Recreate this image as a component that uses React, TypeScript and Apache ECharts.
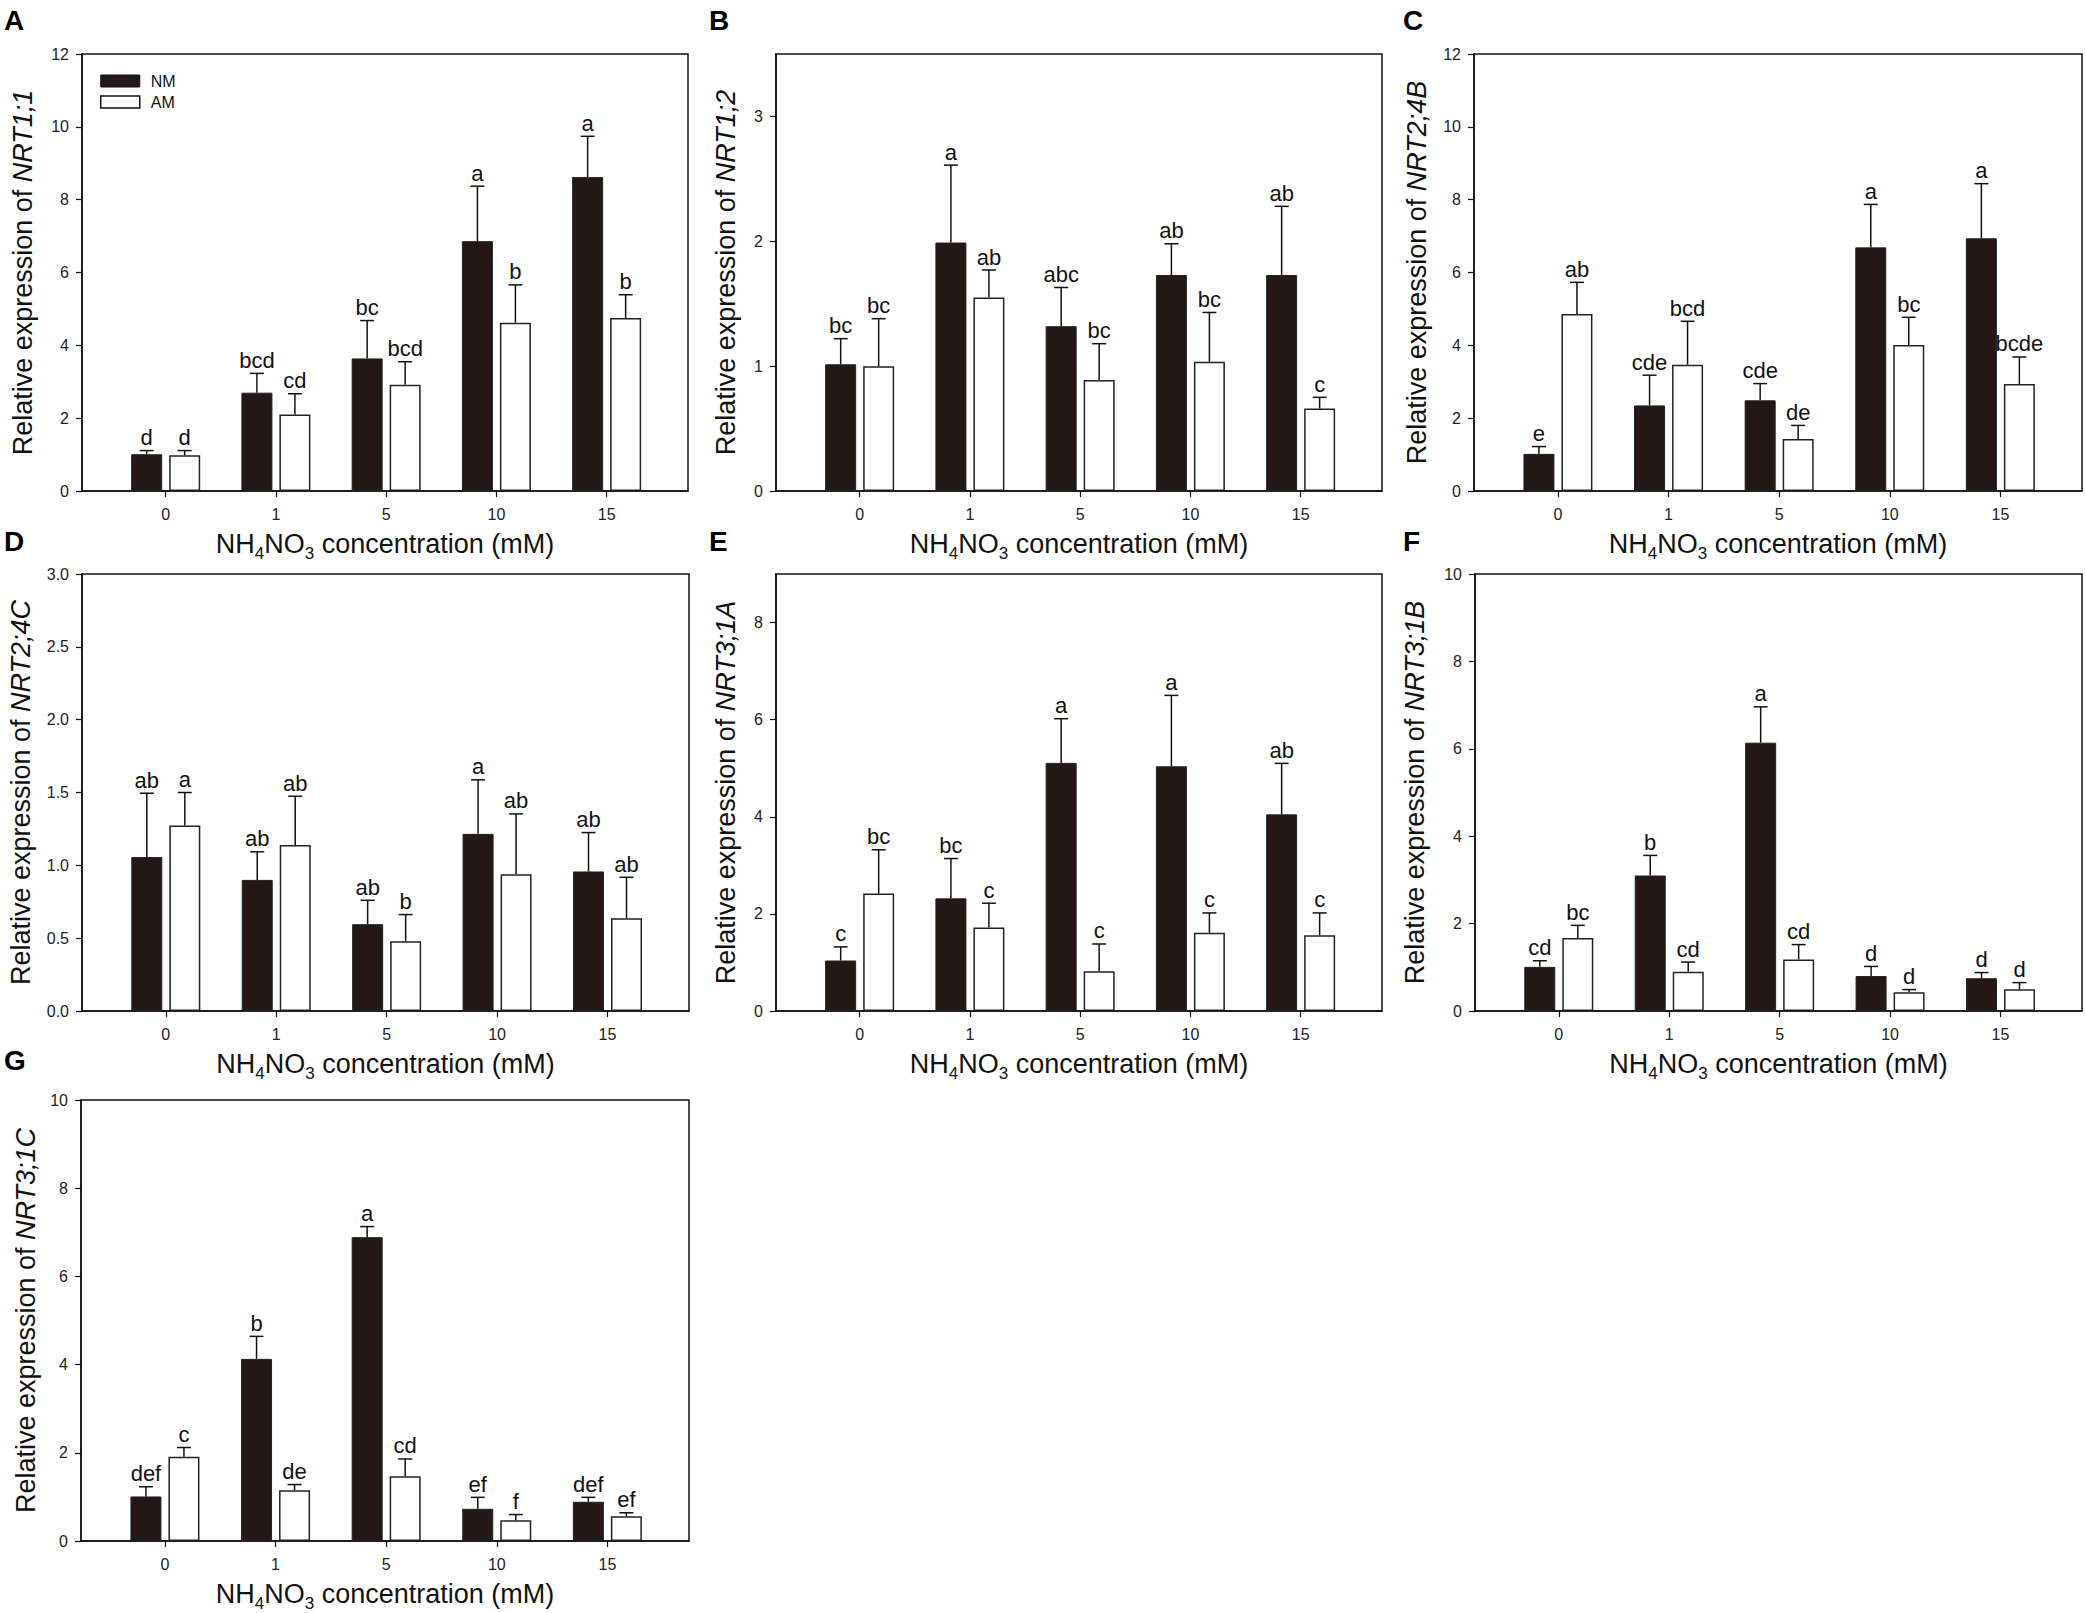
import React, { useEffect, useRef } from 'react';
import * as echarts from 'echarts';

const FONT = '"Liberation Sans", Arial, Helvetica, sans-serif';

// x categories (NH4NO3 mM)
const CATEGORIES = ['0', '1', '5', '10', '15'];
const SERIES_NAMES = ['NM', 'AM'];
const GENES = ['NRT1;1', 'NRT1;2', 'NRT2;4B', 'NRT2;4C', 'NRT3;1A', 'NRT3;1B', 'NRT3;1C'];
const PANEL_LETTERS = ['A', 'B', 'C', 'D', 'E', 'F', 'G'];

// y axis ranges and tick values
const Y_MAX = [12, 3.5, 12, 3.0, 9, 10, 10];
const Y_TICKS = [
  [0, 2, 4, 6, 8, 10, 12],
  [0, 1, 2, 3],
  [0, 2, 4, 6, 8, 10, 12],
  [0, 0.5, 1.0, 1.5, 2.0, 2.5, 3.0],
  [0, 2, 4, 6, 8],
  [0, 2, 4, 6, 8, 10],
  [0, 2, 4, 6, 8, 10],
];

// Panel A: NRT1;1
const A_NM = [1.01, 2.7, 3.64, 6.86, 8.62];
const A_NM_ERR = [1.11, 3.23, 4.68, 8.37, 9.74];
const A_NM_LET = ['d', 'bcd', 'bc', 'a', 'a'];
const A_AM = [0.98, 2.1, 2.92, 4.62, 4.75];
const A_AM_ERR = [1.11, 2.67, 3.55, 5.66, 5.39];
const A_AM_LET = ['d', 'cd', 'bcd', 'b', 'b'];

// Panel B: NRT1;2
const B_NM = [1.015, 1.99, 1.32, 1.73, 1.73];
const B_NM_ERR = [1.22, 2.61, 1.63, 1.98, 2.28];
const B_NM_LET = ['bc', 'a', 'abc', 'ab', 'ab'];
const B_AM = [1.0, 1.55, 0.89, 1.035, 0.66];
const B_AM_ERR = [1.38, 1.77, 1.18, 1.43, 0.75];
const B_AM_LET = ['bc', 'ab', 'bc', 'bc', 'c'];

// Panel C: NRT2;4B
const C_NM = [1.02, 2.35, 2.49, 6.69, 6.94];
const C_NM_ERR = [1.22, 3.18, 2.95, 7.87, 8.44];
const C_NM_LET = ['e', 'cde', 'cde', 'a', 'a'];
const C_AM = [4.86, 3.47, 1.43, 4.01, 2.94];
const C_AM_ERR = [5.73, 4.66, 1.8, 4.77, 3.68];
const C_AM_LET = ['ab', 'bcd', 'de', 'bc', 'bcde'];

// Panel D: NRT2;4C
const D_NM = [1.057, 0.9, 0.596, 1.216, 0.958];
const D_NM_ERR = [1.495, 1.093, 0.76, 1.587, 1.225];
const D_NM_LET = ['ab', 'ab', 'ab', 'a', 'ab'];
const D_AM = [1.273, 1.14, 0.478, 0.939, 0.636];
const D_AM_ERR = [1.5, 1.474, 0.662, 1.353, 0.918];
const D_AM_LET = ['a', 'ab', 'b', 'ab', 'ab'];

// Panel E: NRT3;1A
const E_NM = [1.04, 2.32, 5.11, 5.04, 4.05];
const E_NM_ERR = [1.32, 3.14, 6.02, 6.5, 5.1];
const E_NM_LET = ['c', 'bc', 'a', 'a', 'ab'];
const E_AM = [2.42, 1.72, 0.82, 1.61, 1.56];
const E_AM_ERR = [3.32, 2.22, 1.38, 2.02, 2.02];
const E_AM_LET = ['bc', 'c', 'c', 'c', 'c'];

// Panel F: NRT3;1B
const F_NM = [1.01, 3.1, 6.14, 0.8, 0.75];
const F_NM_ERR = [1.15, 3.56, 6.96, 1.02, 0.88];
const F_NM_LET = ['cd', 'b', 'a', 'd', 'd'];
const F_AM = [1.67, 0.9, 1.18, 0.43, 0.5];
const F_AM_ERR = [1.96, 1.12, 1.52, 0.49, 0.65];
const F_AM_LET = ['bc', 'cd', 'cd', 'd', 'd'];

// Panel G: NRT3;1C
const G_NM = [1.01, 4.13, 6.89, 0.73, 0.89];
const G_NM_ERR = [1.23, 4.64, 7.13, 0.99, 0.99];
const G_NM_LET = ['def', 'b', 'a', 'ef', 'def'];
const G_AM = [1.91, 1.15, 1.47, 0.47, 0.56];
const G_AM_ERR = [2.12, 1.28, 1.86, 0.6, 0.64];
const G_AM_LET = ['c', 'de', 'cd', 'f', 'ef'];

const PANEL_DATA = [
  { nm: A_NM, nmErr: A_NM_ERR, nmLet: A_NM_LET, am: A_AM, amErr: A_AM_ERR, amLet: A_AM_LET },
  { nm: B_NM, nmErr: B_NM_ERR, nmLet: B_NM_LET, am: B_AM, amErr: B_AM_ERR, amLet: B_AM_LET },
  { nm: C_NM, nmErr: C_NM_ERR, nmLet: C_NM_LET, am: C_AM, amErr: C_AM_ERR, amLet: C_AM_LET },
  { nm: D_NM, nmErr: D_NM_ERR, nmLet: D_NM_LET, am: D_AM, amErr: D_AM_ERR, amLet: D_AM_LET },
  { nm: E_NM, nmErr: E_NM_ERR, nmLet: E_NM_LET, am: E_AM, amErr: E_AM_ERR, amLet: E_AM_LET },
  { nm: F_NM, nmErr: F_NM_ERR, nmLet: F_NM_LET, am: F_AM, amErr: F_AM_ERR, amLet: F_AM_LET },
  { nm: G_NM, nmErr: G_NM_ERR, nmLet: G_NM_LET, am: G_AM, amErr: G_AM_ERR, amLet: G_AM_LET },
];

// layout (pixels)
const LAYOUT = [
  { left: 82, top: 54, width: 606, height: 437, nameGap: 46, lx: 4, ly: 6 },
  { left: 776, top: 54, width: 606, height: 437, nameGap: 37, lx: 709, ly: 6 },
  { left: 1474, top: 54, width: 608, height: 437, nameGap: 44, lx: 1403, ly: 6 },
  { left: 82, top: 574, width: 607, height: 437, nameGap: 48, lx: 4, ly: 527 },
  { left: 776, top: 574, width: 606, height: 437, nameGap: 37, lx: 709, ly: 527 },
  { left: 1475, top: 574, width: 607, height: 437, nameGap: 47, lx: 1403, ly: 527 },
  { left: 81, top: 1100, width: 608, height: 441, nameGap: 42, lx: 4, ly: 1046 },
];

const X_MIN = -0.759;
const X_MAX = 4.738;
const BAR_W = 31;
const BAR_GAP = 7;
const NM_COLOR = '#231815';
const INK = '#111111';

function buildOption() {
  const grid: any[] = [];
  const xAxis: any[] = [];
  const yAxis: any[] = [];
  const series: any[] = [];
  const graphic: any[] = [];

  PANEL_DATA.forEach((pd, p) => {
    const L = LAYOUT[p];
    grid.push({
      left: L.left, top: L.top, width: L.width, height: L.height,
      show: true, borderColor: INK, borderWidth: 1.5, backgroundColor: 'transparent',
      containLabel: false, outerBoundsMode: 'none',
    });
    xAxis.push({
      type: 'value', gridIndex: p, min: X_MIN, max: X_MAX,
      name: 'NH{sub|4}NO{sub|3} concentration (mM)',
      nameLocation: 'middle', nameGap: 35,
      nameTextStyle: {
        fontFamily: FONT, fontSize: 27, color: INK, lineHeight: 36,
        rich: { sub: { fontFamily: FONT, fontSize: 17, lineHeight: 20, verticalAlign: 'bottom', color: INK } },
      },
      axisLine: { show: true, onZero: false, lineStyle: { color: INK, width: 1.5 } },
      axisTick: { show: true, inside: false, length: 6, customValues: [0, 1, 2, 3, 4], lineStyle: { color: INK, width: 1.2 } },
      axisLabel: {
        show: true, customValues: [0, 1, 2, 3, 4], margin: 15,
        fontFamily: FONT, fontSize: 16, color: '#222',
        formatter: (v: number) => CATEGORIES[Math.round(v)] ?? '',
      },
      splitLine: { show: false },
    });
    const dec = p === 3;
    yAxis.push({
      type: 'value', gridIndex: p, min: 0, max: Y_MAX[p],
      name: 'Relative expression of {i|' + GENES[p] + '}',
      nameLocation: 'middle', nameGap: L.nameGap, nameRotate: 90,
      nameTextStyle: {
        fontFamily: FONT, fontSize: 27, color: INK,
        rich: { i: { fontFamily: FONT, fontSize: 27, fontStyle: 'italic', color: INK } },
      },
      axisLine: { show: true, onZero: false, lineStyle: { color: INK, width: 1.5 } },
      axisTick: { show: true, inside: false, length: 6, customValues: Y_TICKS[p], lineStyle: { color: INK, width: 1.2 } },
      axisLabel: {
        show: true, customValues: Y_TICKS[p], margin: 13,
        fontFamily: FONT, fontSize: 16, color: '#222',
        formatter: (v: number) => (dec ? v.toFixed(1) : String(v)),
      },
      splitLine: { show: false },
    });

    const groups = [
      { name: SERIES_NAMES[0], vals: pd.nm, err: pd.nmErr, lets: pd.nmLet, off: -(BAR_W / 2 + BAR_GAP / 2), fill: NM_COLOR, bw: 1 },
      { name: SERIES_NAMES[1], vals: pd.am, err: pd.amErr, lets: pd.amLet, off: BAR_W / 2 + BAR_GAP / 2, fill: '#ffffff', bw: 1.5 },
    ];
    groups.forEach((g) => {
      series.push({
        type: 'bar', name: g.name, xAxisIndex: p, yAxisIndex: p,
        barWidth: BAR_W, barGap: (BAR_GAP / BAR_W * 100).toFixed(1) + '%',
        data: g.vals.map((v, i) => [i, v]),
        itemStyle: { color: g.fill, borderColor: '#222', borderWidth: g.bw },
        emphasis: { disabled: true },
        silent: true,
      });
    });
    groups.forEach((g) => {
      const lets = g.lets;
      const off = g.off;
      series.push({
        type: 'custom', xAxisIndex: p, yAxisIndex: p,
        data: g.vals.map((v, i) => [i, v, g.err[i]]),
        encode: { x: 0, y: [1, 2] },
        silent: true, z: 5,
        renderItem: (params: any, api: any) => {
          const i = api.value(0);
          const v = api.value(1);
          const e = api.value(2);
          const base = api.coord([i, v]);
          const top = api.coord([i, e]);
          const cx = base[0] + off;
          return {
            type: 'group',
            children: [
              { type: 'line', shape: { x1: cx, y1: base[1], x2: cx, y2: top[1] }, style: { stroke: INK, lineWidth: 1.5 } },
              { type: 'line', shape: { x1: cx - 7, y1: top[1], x2: cx + 7, y2: top[1] }, style: { stroke: INK, lineWidth: 1.5 } },
              {
                type: 'text', x: cx, y: top[1] - 2,
                style: {
                  text: lets[params.dataIndex], fontFamily: FONT, fontSize: 22, fill: INK,
                  align: 'center', verticalAlign: 'bottom', textAlign: 'center', textVerticalAlign: 'bottom',
                },
              },
            ],
          };
        },
      });
    });

    graphic.push({
      type: 'text', x: L.lx, y: L.ly, silent: true,
      style: {
        text: PANEL_LETTERS[p], fontFamily: FONT, fontSize: 28, fontWeight: 'bold', fill: '#000',
        align: 'left', verticalAlign: 'top', textAlign: 'left', textVerticalAlign: 'top',
      },
    });
  });

  return {
    animation: false,
    backgroundColor: '#ffffff',
    grid, xAxis, yAxis, series, graphic,
    legend: {
      show: true, orient: 'vertical', left: 95, top: 68,
      itemWidth: 39, itemHeight: 12, itemGap: 5,
      selectedMode: false,
      textStyle: { fontFamily: FONT, fontSize: 16, color: INK, padding: [0, 0, 0, 6] },
      data: [
        { name: SERIES_NAMES[0], icon: 'rect', itemStyle: { color: NM_COLOR, borderColor: INK, borderWidth: 1 } },
        { name: SERIES_NAMES[1], icon: 'rect', itemStyle: { color: '#ffffff', borderColor: INK, borderWidth: 1.5 } },
      ],
    },
  };
}

export default function App() {
  const ref = useRef<HTMLDivElement>(null);
  useEffect(() => {
    document.body.style.margin = '0';
    if (!ref.current) return;
    const chart = echarts.init(ref.current, undefined, { renderer: 'svg' });
    chart.setOption(buildOption() as any);
    return () => chart.dispose();
  }, []);
  return <div ref={ref} style={{ width: 2086, height: 1613, background: '#fff' }} />;
}
